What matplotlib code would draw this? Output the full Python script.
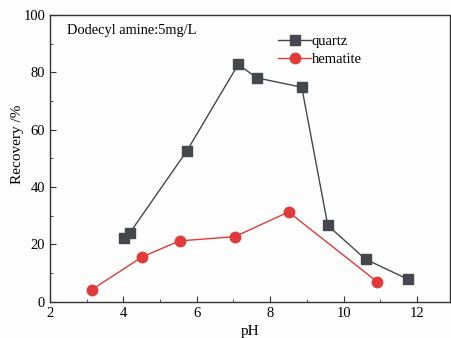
import matplotlib.pyplot as plt
import numpy as np

plt.rcParams['font.family'] = ['Liberation Serif', 'DejaVu Serif']
plt.rcParams['mathtext.fontset'] = 'stix'

# flotation recovery vs pH, dodecyl amine 5 mg/L
ph_quartz = [4.02, 4.17, 5.73, 7.13, 7.63, 8.86, 9.57, 10.6, 11.76]
rec_quartz = [22.1, 23.9, 52.6, 82.8, 78.1, 74.8, 26.6, 14.8, 7.8]

ph_hematite = [3.14, 4.52, 5.53, 7.04, 8.5, 10.92]
rec_hematite = [4.2, 15.7, 21.2, 22.7, 31.3, 6.9]

fig = plt.figure(figsize=(4.52, 3.38), dpi=100)
fig.patch.set_facecolor('#fdfdfd')
ax = fig.add_axes([50/452, 1 - 301.7/338, 400/452, 286.7/338])
ax.set_facecolor('#fdfdfd')

ax.plot(ph_quartz, rec_quartz, '-s', color='#44484c', lw=1.0, ms=7,
        label='quartz')
ax.plot(ph_hematite, rec_hematite, '-o', color='#e03a3a', lw=1.0, ms=7.5,
        label='hematite')

ax.set_xlim(2, 12.9)
ax.set_ylim(0, 100)
ax.set_xticks([2, 4, 6, 8, 10, 12])
ax.set_xticks([3, 5, 7, 9, 11], minor=True)
ax.set_yticks([0, 20, 40, 60, 80, 100])
ax.set_yticks([10, 30, 50, 70, 90], minor=True)
ax.tick_params(which='both', direction='in', labelsize=10.5, color='#333333')
ax.tick_params(which='major', length=4)
ax.tick_params(which='minor', length=2.5)
for s in ax.spines.values():
    s.set_color('#333333')
    s.set_linewidth(1.0)

ax.set_xlabel('pH', fontsize=11, labelpad=4)
ax.set_ylabel('Recovery /%', fontsize=11)
ax.yaxis.set_label_coords(-0.066, 0.55)

ax.text(0.043, 0.97, 'Dodecyl amine:5mg/L', transform=ax.transAxes,
        fontsize=10.4, va='top', ha='left')

ax.legend(loc='upper left', bbox_to_anchor=(0.555, 0.95), frameon=False,
          fontsize=10.5, handlelength=2.3, handletextpad=0.0,
          labelspacing=0.3, borderaxespad=0)

fig.savefig('out.png', dpi=100, facecolor=fig.get_facecolor())
